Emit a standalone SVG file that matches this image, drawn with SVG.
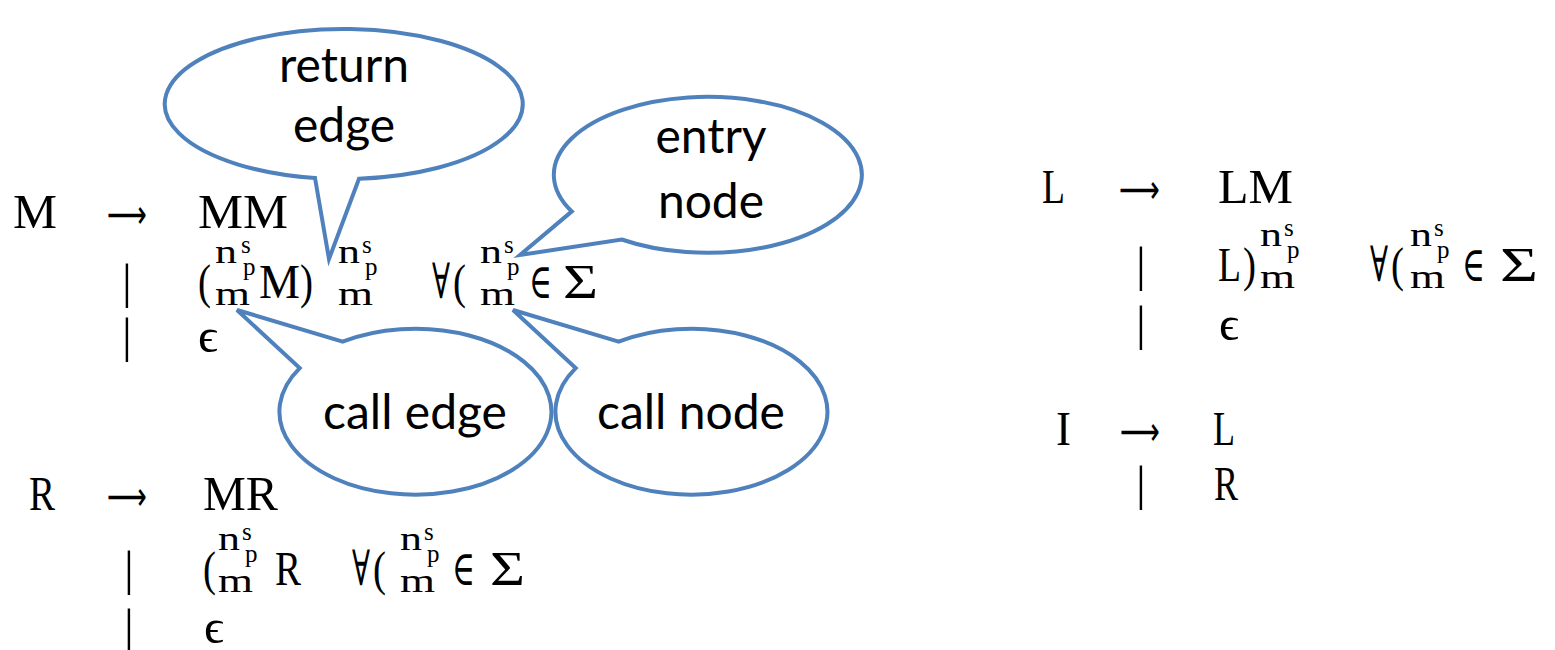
<svg xmlns="http://www.w3.org/2000/svg" width="1555" height="650" viewBox="0 0 1555 650">
<style>
.mt{font-family:"Liberation Serif","DejaVu Serif",serif;font-size:49px;fill:#000}
.ar{font-family:"DejaVu Sans","Liberation Sans",sans-serif;font-size:40px;fill:#000}
.sc{font-family:"Liberation Serif","DejaVu Serif",serif;font-size:34px;fill:#000}
.ss{font-family:"Liberation Serif","DejaVu Serif",serif;font-size:25px;fill:#000}
.co{fill:#fff;stroke:#4f81bd;stroke-width:4;stroke-linejoin:miter}
.ct{font-family:Lato,"Liberation Sans",sans-serif;font-size:48px;fill:#000;text-anchor:middle}
</style>
<rect width="1555" height="650" fill="#fff"/>

<g id="rule-M">
<text class="mt" x="13" y="228" textLength="44" lengthAdjust="spacingAndGlyphs">M</text>
<text class="ar" x="107" y="228" textLength="40" lengthAdjust="spacingAndGlyphs">⟶</text>
<text class="mt" x="198" y="228" textLength="90" lengthAdjust="spacingAndGlyphs">MM</text>
<text class="mt" x="122" y="298">|</text>
<text class="mt" x="198" y="298" textLength="13" lengthAdjust="spacingAndGlyphs">(</text>
<text class="sc" x="215" y="263" textLength="22" lengthAdjust="spacingAndGlyphs">n</text><text class="ss" x="241" y="253">s</text><text class="ss" x="243" y="275">p</text><text class="sc" x="215" y="305" textLength="35" lengthAdjust="spacingAndGlyphs">m</text>
<text class="mt" x="259" y="298" textLength="41" lengthAdjust="spacingAndGlyphs">M</text>
<text class="mt" x="300" y="298" textLength="13" lengthAdjust="spacingAndGlyphs">)</text>
<text class="sc" x="338" y="263" textLength="22" lengthAdjust="spacingAndGlyphs">n</text><text class="ss" x="362" y="253">s</text><text class="ss" x="365" y="275">p</text><text class="sc" x="338" y="305" textLength="35" lengthAdjust="spacingAndGlyphs">m</text>
<text class="mt" x="432" y="298" textLength="18" lengthAdjust="spacingAndGlyphs">∀</text>
<text class="mt" x="453" y="298" textLength="13" lengthAdjust="spacingAndGlyphs">(</text>
<text class="sc" x="480" y="263" textLength="22" lengthAdjust="spacingAndGlyphs">n</text><text class="ss" x="504" y="253">s</text><text class="ss" x="507" y="275">p</text><text class="sc" x="480" y="305" textLength="35" lengthAdjust="spacingAndGlyphs">m</text>
<text class="mt" x="529" y="298" textLength="23" lengthAdjust="spacingAndGlyphs">∈</text>
<text class="mt" x="563" y="298" textLength="35" lengthAdjust="spacingAndGlyphs">Σ</text>
<text class="mt" x="122" y="352">|</text>
<text class="mt" x="198" y="352" textLength="20" lengthAdjust="spacingAndGlyphs">ϵ</text>
</g>

<g id="rule-R">
<text class="mt" x="29" y="510" textLength="26" lengthAdjust="spacingAndGlyphs">R</text>
<text class="ar" x="107" y="510" textLength="40" lengthAdjust="spacingAndGlyphs">⟶</text>
<text class="mt" x="203" y="510" textLength="75" lengthAdjust="spacingAndGlyphs">MR</text>
<text class="mt" x="124" y="585">|</text>
<text class="mt" x="203" y="585" textLength="13" lengthAdjust="spacingAndGlyphs">(</text>
<text class="sc" x="218" y="550" textLength="22" lengthAdjust="spacingAndGlyphs">n</text><text class="ss" x="242" y="540">s</text><text class="ss" x="245" y="562">p</text><text class="sc" x="218" y="592" textLength="35" lengthAdjust="spacingAndGlyphs">m</text>
<text class="mt" x="275" y="585" textLength="26" lengthAdjust="spacingAndGlyphs">R</text>
<text class="mt" x="352" y="585" textLength="18" lengthAdjust="spacingAndGlyphs">∀</text>
<text class="mt" x="373" y="585" textLength="13" lengthAdjust="spacingAndGlyphs">(</text>
<text class="sc" x="400" y="550" textLength="22" lengthAdjust="spacingAndGlyphs">n</text><text class="ss" x="424" y="540">s</text><text class="ss" x="427" y="562">p</text><text class="sc" x="400" y="592" textLength="35" lengthAdjust="spacingAndGlyphs">m</text>
<text class="mt" x="452" y="585" textLength="23" lengthAdjust="spacingAndGlyphs">∈</text>
<text class="mt" x="490" y="585" textLength="35" lengthAdjust="spacingAndGlyphs">Σ</text>
<text class="mt" x="124" y="643">|</text>
<text class="mt" x="204" y="643" textLength="20" lengthAdjust="spacingAndGlyphs">ϵ</text>
</g>

<g id="rule-L">
<text class="mt" x="1042" y="203" textLength="23" lengthAdjust="spacingAndGlyphs">L</text>
<text class="ar" x="1119" y="203" textLength="41" lengthAdjust="spacingAndGlyphs">⟶</text>
<text class="mt" x="1218" y="203" textLength="75" lengthAdjust="spacingAndGlyphs">LM</text>
<text class="mt" x="1136" y="281">|</text>
<text class="mt" x="1218" y="281" textLength="23" lengthAdjust="spacingAndGlyphs">L</text>
<text class="mt" x="1243" y="281" textLength="13" lengthAdjust="spacingAndGlyphs">)</text>
<text class="sc" x="1260" y="246" textLength="22" lengthAdjust="spacingAndGlyphs">n</text><text class="ss" x="1284" y="236">s</text><text class="ss" x="1287" y="258">p</text><text class="sc" x="1260" y="288" textLength="35" lengthAdjust="spacingAndGlyphs">m</text>
<text class="mt" x="1370" y="281" textLength="18" lengthAdjust="spacingAndGlyphs">∀</text>
<text class="mt" x="1391" y="281" textLength="13" lengthAdjust="spacingAndGlyphs">(</text>
<text class="sc" x="1410" y="246" textLength="22" lengthAdjust="spacingAndGlyphs">n</text><text class="ss" x="1434" y="236">s</text><text class="ss" x="1437" y="258">p</text><text class="sc" x="1410" y="288" textLength="35" lengthAdjust="spacingAndGlyphs">m</text>
<text class="mt" x="1462" y="281" textLength="23" lengthAdjust="spacingAndGlyphs">∈</text>
<text class="mt" x="1500" y="281" textLength="38" lengthAdjust="spacingAndGlyphs">Σ</text>
<text class="mt" x="1136" y="340">|</text>
<text class="mt" x="1219" y="340" textLength="20" lengthAdjust="spacingAndGlyphs">ϵ</text>
</g>

<g id="rule-I">
<text class="mt" x="1056" y="445" textLength="15" lengthAdjust="spacingAndGlyphs">I</text>
<text class="ar" x="1120" y="445" textLength="40" lengthAdjust="spacingAndGlyphs">⟶</text>
<text class="mt" x="1213" y="445" textLength="22" lengthAdjust="spacingAndGlyphs">L</text>
<text class="mt" x="1136" y="500">|</text>
<text class="mt" x="1214" y="500" textLength="24" lengthAdjust="spacingAndGlyphs">R</text>
</g>

<g id="callout-return-edge">
<path class="co" d="M315 178 L329 259 L359 178.7 A179 75 0 1 0 315 178 Z"/>
<text class="ct" x="344" y="82">return</text>
<text class="ct" x="344" y="142">edge</text>
</g>

<g id="callout-entry-node">
<path class="co" d="M571.8 211.4 L520 255 L621.7 239.5 A154 78 0 1 0 571.8 211.4 Z"/>
<text class="ct" x="711" y="153">entry</text>
<text class="ct" x="711" y="218">node</text>
</g>

<g id="callout-call-edge">
<path class="co" d="M342.6 341.6 L237 310 L299.7 368.1 A136 83 0 1 0 342.6 341.6 Z"/>
<text class="ct" x="415" y="429">call edge</text>
</g>

<g id="callout-call-node">
<path class="co" d="M618.6 341.6 L513 310 L575.7 368.1 A136 83 0 1 0 618.6 341.6 Z"/>
<text class="ct" x="691" y="429">call node</text>
</g>

<g id="connectors"></g>
</svg>
